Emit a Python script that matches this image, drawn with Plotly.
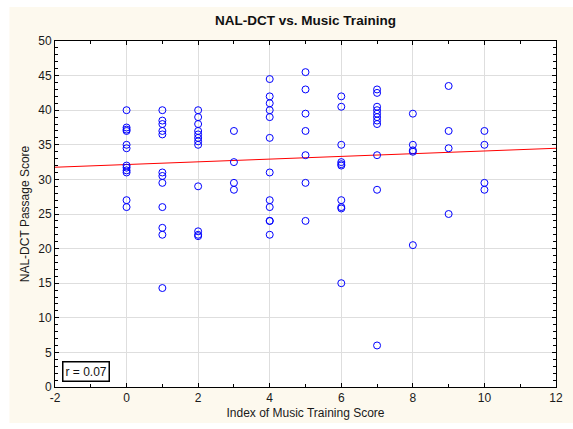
import numpy as np
import plotly.graph_objects as go

# Music-training index (x) and NAL-DCT passage score (y), one list per index value
x0 = [40, 37.5, 37.2, 37, 35, 34.5, 32, 31.7, 31.3, 31, 27, 26]
x1 = [40, 38.5, 38, 37, 36.5, 31, 30.5, 29.5, 26, 23, 22, 14.3]
x2 = [40, 39, 38, 37, 36.5, 36, 35.5, 35, 29, 22.5, 22, 21.8]
x3 = [37, 32.5, 29.5, 28.5]
x4 = [44.5, 42, 41, 40, 39, 36, 31, 27, 26, 24, 24, 22]
x5 = [45.5, 43, 39.5, 37, 33.5, 29.5, 24]
x6 = [42, 40.5, 35, 32.5, 32.2, 32, 27, 26, 25.8, 15]
x7 = [43, 42.5, 40.5, 40, 39.5, 39, 38.5, 38, 33.5, 28.5, 6]
x8 = [39.5, 35, 34.2, 34, 20.5]
x9 = [43.5, 37, 34.5, 25]
x10 = [37, 35, 29.5, 28.5]

groups = [x0, x1, x2, x3, x4, x5, x6, x7, x8, x9, x10]
training = [i for i, g in enumerate(groups) for _ in g]
scores = [v for g in groups for v in g]

r_label = "r = 0.07"
x_range = [-2, 12]
y_range = [0, 50]
x_ticks = [-2, 0, 2, 4, 6, 8, 10, 12]
x_tick_text = ["-2", "0", "2", "4", "6", "8", "10", "12"]

# least-squares fit line across the full x range
slope, intercept = np.polyfit(training, scores, 1)
fit_x = np.array(x_range, dtype=float)
fit_y = intercept + slope * fit_x

font = "Liberation Sans, Arial, sans-serif"
cream = "#FDF9EE"

fig = go.Figure()
fig.add_trace(go.Scatter(
    x=fit_x, y=fit_y, mode="lines",
    line=dict(color="#FF0000", width=1),
    hoverinfo="skip", showlegend=False,
))
fig.add_trace(go.Scatter(
    x=training, y=scores, mode="markers",
    marker=dict(symbol="circle-open", size=7, color="#0000FF",
                line=dict(width=1, color="#0000FF")),
    showlegend=False,
))

axis_common = dict(
    showline=True, linecolor="black", linewidth=1, mirror="allticks",
    ticks="inside", ticklen=4, tickcolor="black", tickwidth=1,
    showgrid=True, gridcolor="#DEDEDE", gridwidth=1,
    zeroline=False,
    tickfont=dict(family=font, size=12, color="#1a1a1a"),
)

fig.update_xaxes(
    range=x_range, tickmode="array", tickvals=x_ticks, ticktext=x_tick_text,
    minor=dict(dtick=1, ticks="inside", ticklen=3, tickcolor="black", showgrid=False),
    title=dict(text="Index of Music Training Score",
               font=dict(family=font, size=12, color="#1a1a1a"), standoff=4),
    **axis_common,
)
fig.update_yaxes(
    range=y_range, tickmode="linear", tick0=0, dtick=5,
    minor=dict(dtick=1, ticks="inside", ticklen=3, tickcolor="black", showgrid=False),
    title=dict(text="NAL-DCT Passage Score",
               font=dict(family=font, size=12, color="#1a1a1a"), standoff=6),
    **axis_common,
)

fig.update_layout(
    width=573, height=429,
    margin=dict(l=55, r=10, t=41, b=42),
    paper_bgcolor=cream, plot_bgcolor="white",
    title=dict(text="<b>NAL-DCT vs. Music Training</b>",
               font=dict(family=font, size=13.5, color="#111111"),
               x=0.5, xref="paper", xanchor="center",
               y=1 - 20 / 429, yref="container", yanchor="middle"),
    annotations=[dict(
        text=r_label, xref="paper", yref="paper",
        x=0.014, y=0.015, xanchor="left", yanchor="bottom",
        showarrow=False, bgcolor="white", bordercolor="black",
        borderwidth=1.5, borderpad=2,
        font=dict(family=font, size=12, color="#111111"),
    )],
    shapes=[
        # thin white frame around the cream page
        dict(type="rect", xref="paper", yref="paper", layer="above",
             x0=-0.2, x1=1.1, y0=1.098, y1=1.2, fillcolor="white", line_width=0),
        dict(type="rect", xref="paper", yref="paper", layer="above",
             x0=-0.2, x1=-0.091, y0=-0.2, y1=1.2, fillcolor="white", line_width=0),
        dict(type="rect", xref="paper", yref="paper", layer="above",
             x0=-0.2, x1=1.1, y0=-0.2, y1=-0.104, fillcolor="white", line_width=0),
    ],
)

fig.write_html("out.html")
